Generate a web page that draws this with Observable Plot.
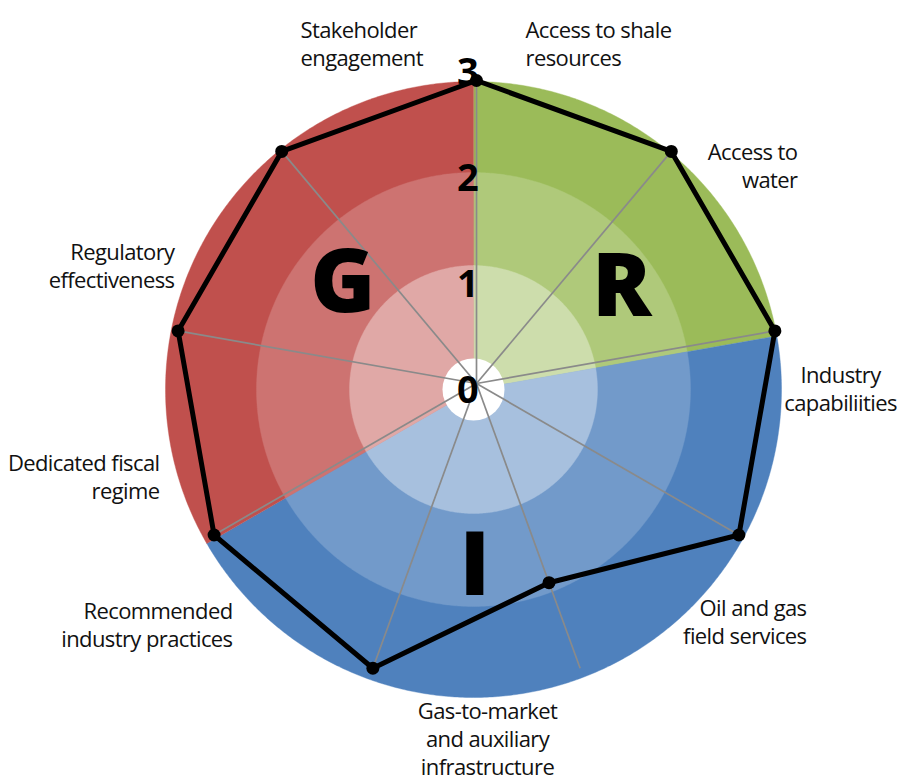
<!DOCTYPE html>
<html><head><meta charset="utf-8">
<script src="https://cdn.jsdelivr.net/npm/d3@7"></script>
<script src="https://cdn.jsdelivr.net/npm/@observablehq/plot@0.6"></script>
<style>html,body{margin:0;padding:0;background:#fff;}</style>
</head><body><div id="chart"></div>
<script>
// ---- data ----
const dimensions = [
  "Access to shale\nresources",
  "Access to\nwater",
  "Industry\ncapabiliities",
  "Oil and gas\nfield services",
  "Gas-to-market\nand auxiliary\ninfrastructure",
  "Recommended\nindustry practices",
  "Dedicated fiscal\nregime",
  "Regulatory\neffectiveness",
  "Stakeholder\nengagement"
];
const pillars = ["R", "R", "I", "I", "I", "I", "G", "G", "G"];
const scores = [3, 3, 3, 3, 2, 3, 3, 3, 3]; // spoke values, clockwise from top
const tickValues = [0, 1, 2, 3];
const pillarLetters = ["G", "R", "I"];

// ---- layout (pixels relative to the radar centre, y up) ----
const W = 897, H = 781, CX = 476, CY = 383;
const UNIT = 91, OFFSET = 30;
const rho = v => OFFSET + UNIT * v;
const STEP = 360 / dimensions.length;
const rad = d => d * Math.PI / 180;
const polar = (deg, r, c = {x: 0, y: 0}) => ({x: c.x + r * Math.sin(rad(deg)), y: c.y + r * Math.cos(rad(deg))});

const pieCenter = {x: -3, y: -6};
const ringRadii = [308, 217, 124];
const holeR = 31;
const palette = {
  G: ["#C0504D", "#CD7371", "#E0A8A6"],
  R: ["#9BBB59", "#AFC97A", "#CDDDAC"],
  I: ["#4F81BD", "#729ACA", "#A7C0DE"]
};
const labelLayout = [
  {anchor: "start", dx: 49, dy: 318},
  {anchor: "end", dx: 321, dy: 196},
  {anchor: "middle", dx: 364, dy: -27},
  {anchor: "end", dx: 330, dy: -260},
  {anchor: "middle", dx: 11, dy: -391},
  {anchor: "end", dx: -244, dy: -263},
  {anchor: "end", dx: -317, dy: -115},
  {anchor: "end", dx: -302, dy: 96},
  {anchor: "start", dx: -176, dy: 318}
];
const letterLayout = {G: {x: -134, y: 100}, R: {x: 145, y: 96}, I: {x: -2, y: -183}};

// group consecutive sectors of the same pillar
const groups = [];
pillars.forEach((p, i) => {
  const last = groups[groups.length - 1];
  if (last && last.p === p) last.a1 = (i + 1) * STEP;
  else groups.push({p, a0: i * STEP, a1: (i + 1) * STEP});
});
function wedge(a0, a1, r) {
  const pts = [{...pieCenter}];
  for (let a = a0; a <= a1 + 1e-9; a += 0.5) pts.push(polar(a, r, pieCenter));
  return pts;
}

const marks = [];
ringRadii.forEach((r, ring) => {
  groups.forEach(g => {
    const col = palette[g.p][ring];
    marks.push(Plot.line(wedge(g.a0, g.a1, r), {x: "x", y: "y", fill: col, stroke: col, strokeWidth: 0.4, curve: "linear-closed"}));
  });
});
marks.push(Plot.dot([pieCenter], {x: "x", y: "y", r: holeR, fill: "white", stroke: "none"}));

const spokes = scores.map((s, i) => {
  const e = polar(i * STEP, rho(3));
  return {x1: 0, y1: 0, x2: e.x, y2: e.y};
});
marks.push(Plot.link(spokes, {x1: "x1", y1: "y1", x2: "x2", y2: "y2", stroke: "#8a8a8a", strokeWidth: 1.7}));

const points = scores.map((s, i) => ({...polar(i * STEP, rho(s)), score: s, name: dimensions[i]}));
marks.push(Plot.line(points, {x: "x", y: "y", curve: "linear-closed", stroke: "black", strokeWidth: 5}));
marks.push(Plot.dot(points, {x: "x", y: "y", r: 6.5, fill: "black", stroke: "none"}));

marks.push(Plot.text(tickValues, {x: 0, y: v => -7 + 106 * v, dx: -9, text: d => String(d), fontSize: 38, fontWeight: 700, fill: "black"}));

marks.push(Plot.text(pillarLetters, {x: d => letterLayout[d].x, y: d => letterLayout[d].y, text: d => d, fontSize: 88, fontWeight: 800, fill: "black"}));

["start", "middle", "end"].forEach(anchor => {
  const rows = dimensions.map((t, i) => ({t, ...labelLayout[i]})).filter(d => d.anchor === anchor);
  marks.push(Plot.text(rows, {x: "dx", y: "dy", text: "t", textAnchor: anchor, lineAnchor: "bottom", fontSize: 22, lineHeight: 28 / 22, fill: "#111"}));
});

const chart = Plot.plot({
  width: W, height: H, margin: 0,
  x: {domain: [-CX, W - CX], axis: null},
  y: {domain: [-(H - CY), CY], axis: null},
  style: {fontFamily: "'Open Sans', sans-serif", background: "white", letterSpacing: "-0.6px", overflow: "visible"},
  marks
});
document.getElementById("chart").appendChild(chart);
</script>
</body></html>
